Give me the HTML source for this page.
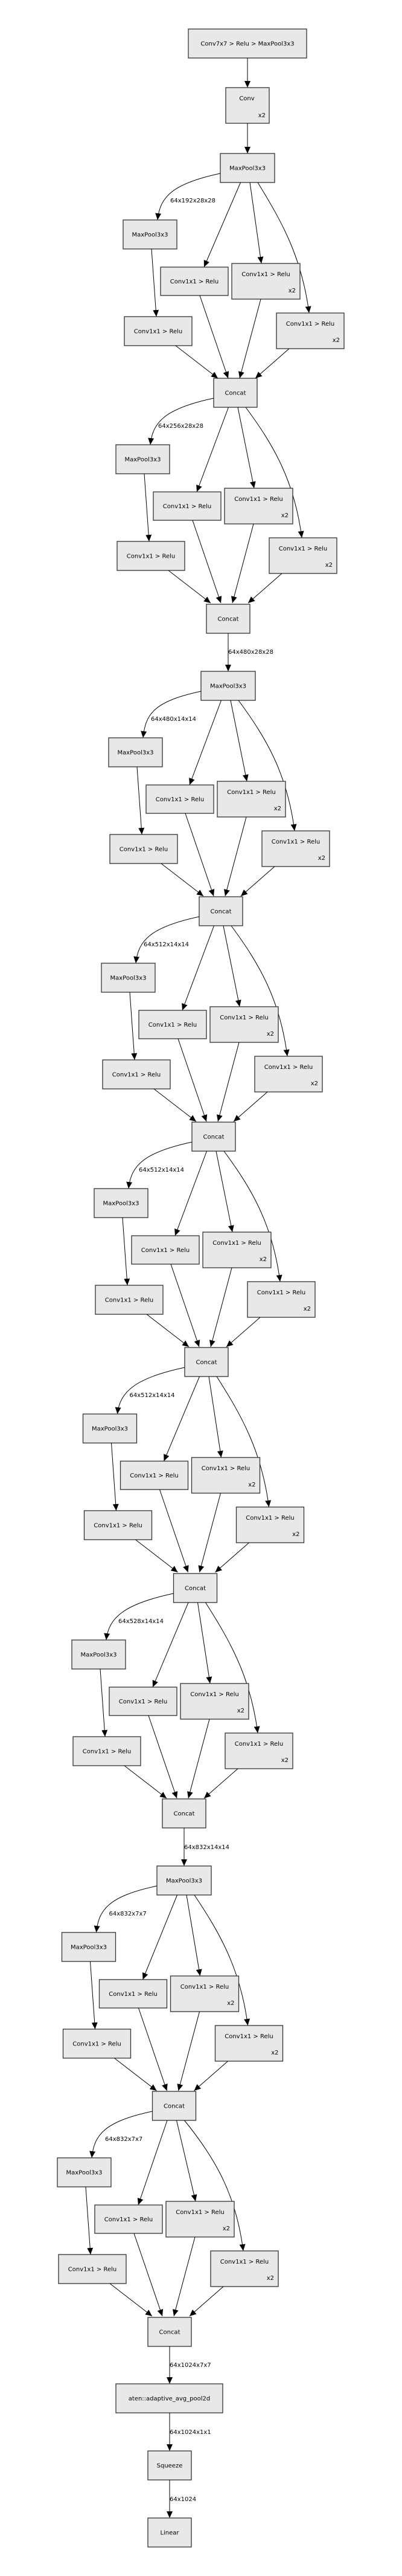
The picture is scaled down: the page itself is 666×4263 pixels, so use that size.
<!DOCTYPE html>
<html><head><meta charset="utf-8"><style>
html,body{margin:0;padding:0;background:#fff}
svg{display:block}
rect{fill:#e8e8e8;stroke:#333;stroke-width:1.3}
text{font-family:"DejaVu Sans","Liberation Sans",sans-serif;font-size:10px;fill:#000}
.m{text-anchor:middle}
.e{text-anchor:end}
path{fill:none;stroke:#000;stroke-width:1}
path.a{marker-end:url(#ar)}
</style></head><body>
<svg width="666" height="4263" viewBox="0 0 666 4263" xmlns="http://www.w3.org/2000/svg">
<defs><marker id="ar" markerUnits="userSpaceOnUse" markerWidth="12" markerHeight="10" refX="11" refY="5" orient="auto"><path d="M0,0 L11,5 L0,10 Z" style="fill:#000;stroke:none"/></marker></defs>

<!-- top -->
<rect x="312" y="48" width="196" height="48"/><text class="m" x="410" y="75.5">Conv7x7 &gt; Relu &gt; MaxPool3x3</text>
<path class="a" d="M410,96 L410,145"/>
<rect x="374" y="145" width="72" height="59"/><text class="m" x="409" y="166">Conv</text><text class="e" x="440" y="194">x2</text>
<path class="a" d="M410,204 L410,254"/>
<rect x="365" y="254" width="90" height="48"/><text class="m" x="410" y="281.5">MaxPool3x3</text>

<!-- sources / concats -->
<rect x="354" y="626" width="72" height="48"/><text class="m" x="390" y="653.5">Concat</text>
<rect x="342" y="1000" width="72" height="48"/><text class="m" x="378" y="1027.5">Concat</text>
<path class="a" d="M378,1048 L378,1111"/><text x="378" y="1082">64x480x28x28</text>
<rect x="333" y="1111" width="90" height="48"/><text class="m" x="378" y="1138.5">MaxPool3x3</text>
<rect x="330" y="1484" width="72" height="48"/><text class="m" x="366" y="1511.5">Concat</text>
<rect x="318" y="1857" width="72" height="48"/><text class="m" x="354" y="1884.5">Concat</text>
<rect x="306" y="2230" width="72" height="48"/><text class="m" x="342" y="2257.5">Concat</text>
<rect x="287.5" y="2604" width="72" height="48"/><text class="m" x="323.5" y="2631.5">Concat</text>
<rect x="269" y="2977" width="72" height="48"/><text class="m" x="305" y="3004.5">Concat</text>
<path class="a" d="M305,3025 L305,3088"/><text x="305" y="3060">64x832x14x14</text>
<rect x="260" y="3088" width="90" height="48"/><text class="m" x="305" y="3115.5">MaxPool3x3</text>
<rect x="252.5" y="3461" width="72" height="48"/><text class="m" x="288.5" y="3488.5">Concat</text>
<rect x="245" y="3835" width="72" height="48"/><text class="m" x="281" y="3862.5">Concat</text>
<path class="a" d="M281,3883 L281,3945"/><text x="281" y="3917">64x1024x7x7</text>
<rect x="192" y="3945" width="177" height="48"/><text class="m" x="280.5" y="3972.5">aten::adaptive_avg_pool2d</text>
<path class="a" d="M281,3993 L281,4056"/><text x="281" y="4028">64x1024x1x1</text>
<rect x="245" y="4056" width="72" height="48"/><text class="m" x="281" y="4083.5">Squeeze</text>
<path class="a" d="M281,4104 L281,4167"/><text x="281" y="4139">64x1024</text>
<rect x="245" y="4167" width="72" height="48"/><text class="m" x="281" y="4194.5">Linear</text>

<!-- block 0 -->
<g transform="translate(390,254)">
<path class="a" d="M-25,33 C-105,50 -125,72 -129,110"/><text x="-108" y="81">64x192x28x28</text>
<path class="a" d="M8.5,48 L-52,188"/><path class="a" d="M24,48 L43,182"/><path class="a" d="M37,48 C75,110 110,170 122,264"/>
<rect x="-186" y="110" width="89" height="48"/><text class="m" x="-141.5" y="137.5">MaxPool3x3</text>
<rect x="-124" y="188" width="112" height="47"/><text class="m" x="-68" y="215">Conv1x1 &gt; Relu</text>
<rect x="-6" y="182" width="113" height="59"/><text class="m" x="50.5" y="203">Conv1x1 &gt; Relu</text><text class="e" x="100" y="230">x2</text>
<rect x="68" y="264" width="112" height="59"/><text class="m" x="124" y="285">Conv1x1 &gt; Relu</text><text class="e" x="173" y="312">x2</text>
<rect x="-184" y="270" width="112" height="48"/><text class="m" x="-128" y="297.5">Conv1x1 &gt; Relu</text>
<path class="a" d="M-139,158 L-131,270"/><path class="a" d="M-99,318 L-29,372"/><path class="a" d="M-59,235 L-12,372"/><path class="a" d="M42,241 L7,372"/><path class="a" d="M89,323 L33,372"/>
</g>
<!-- block 1 -->
<g transform="translate(378,626)">
<path class="a" d="M-24,33 C-104,50 -125,72 -129,110"/><text x="-116" y="82">64x256x28x28</text>
<path class="a" d="M0.5,48 L-52,188"/><path class="a" d="M16,48 L43,182"/><path class="a" d="M29,48 C75,110 110,170 122,264"/>
<rect x="-186" y="110" width="89" height="48"/><text class="m" x="-141.5" y="137.5">MaxPool3x3</text>
<rect x="-124" y="188" width="112" height="47"/><text class="m" x="-68" y="215">Conv1x1 &gt; Relu</text>
<rect x="-6" y="182" width="113" height="59"/><text class="m" x="50.5" y="203">Conv1x1 &gt; Relu</text><text class="e" x="100" y="230">x2</text>
<rect x="68" y="264" width="112" height="59"/><text class="m" x="124" y="285">Conv1x1 &gt; Relu</text><text class="e" x="173" y="312">x2</text>
<rect x="-184" y="270" width="112" height="48"/><text class="m" x="-128" y="297.5">Conv1x1 &gt; Relu</text>
<path class="a" d="M-139,158 L-131,270"/><path class="a" d="M-99,318 L-29,372"/><path class="a" d="M-59,235 L-12,372"/><path class="a" d="M42,241 L7,372"/><path class="a" d="M89,323 L33,372"/>
</g>
<!-- block 2 -->
<g transform="translate(366,1111)">
<path class="a" d="M-33,33 C-113,50 -125,72 -129,110"/><text x="-116" y="82">64x480x14x14</text>
<path class="a" d="M0.5,48 L-52,188"/><path class="a" d="M16,48 L43,182"/><path class="a" d="M29,48 C75,110 110,170 122,264"/>
<rect x="-186" y="110" width="89" height="48"/><text class="m" x="-141.5" y="137.5">MaxPool3x3</text>
<rect x="-124" y="188" width="112" height="47"/><text class="m" x="-68" y="215">Conv1x1 &gt; Relu</text>
<rect x="-6" y="182" width="113" height="59"/><text class="m" x="50.5" y="203">Conv1x1 &gt; Relu</text><text class="e" x="100" y="230">x2</text>
<rect x="68" y="264" width="112" height="59"/><text class="m" x="124" y="285">Conv1x1 &gt; Relu</text><text class="e" x="173" y="312">x2</text>
<rect x="-184" y="270" width="112" height="48"/><text class="m" x="-128" y="297.5">Conv1x1 &gt; Relu</text>
<path class="a" d="M-139,158 L-131,270"/><path class="a" d="M-99,318 L-29,372"/><path class="a" d="M-59,235 L-12,372"/><path class="a" d="M42,241 L7,372"/><path class="a" d="M89,323 L33,372"/>
</g>
<!-- block 3 -->
<g transform="translate(354,1484)">
<path class="a" d="M-24,33 C-104,50 -125,72 -129,110"/><text x="-116" y="82">64x512x14x14</text>
<path class="a" d="M0.5,48 L-52,188"/><path class="a" d="M16,48 L43,182"/><path class="a" d="M29,48 C75,110 110,170 122,264"/>
<rect x="-186" y="110" width="89" height="48"/><text class="m" x="-141.5" y="137.5">MaxPool3x3</text>
<rect x="-124" y="188" width="112" height="47"/><text class="m" x="-68" y="215">Conv1x1 &gt; Relu</text>
<rect x="-6" y="182" width="113" height="59"/><text class="m" x="50.5" y="203">Conv1x1 &gt; Relu</text><text class="e" x="100" y="230">x2</text>
<rect x="68" y="264" width="112" height="59"/><text class="m" x="124" y="285">Conv1x1 &gt; Relu</text><text class="e" x="173" y="312">x2</text>
<rect x="-184" y="270" width="112" height="48"/><text class="m" x="-128" y="297.5">Conv1x1 &gt; Relu</text>
<path class="a" d="M-139,158 L-131,270"/><path class="a" d="M-99,318 L-29,372"/><path class="a" d="M-59,235 L-12,372"/><path class="a" d="M42,241 L7,372"/><path class="a" d="M89,323 L33,372"/>
</g>
<!-- block 4 -->
<g transform="translate(342,1857)">
<path class="a" d="M-24,33 C-104,50 -125,72 -129,110"/><text x="-112" y="82">64x512x14x14</text>
<path class="a" d="M0.5,48 L-52,188"/><path class="a" d="M16,48 L43,182"/><path class="a" d="M29,48 C75,110 110,170 122,264"/>
<rect x="-186" y="110" width="89" height="48"/><text class="m" x="-141.5" y="137.5">MaxPool3x3</text>
<rect x="-124" y="188" width="112" height="47"/><text class="m" x="-68" y="215">Conv1x1 &gt; Relu</text>
<rect x="-6" y="182" width="113" height="59"/><text class="m" x="50.5" y="203">Conv1x1 &gt; Relu</text><text class="e" x="100" y="230">x2</text>
<rect x="68" y="264" width="112" height="59"/><text class="m" x="124" y="285">Conv1x1 &gt; Relu</text><text class="e" x="173" y="312">x2</text>
<rect x="-184" y="270" width="112" height="48"/><text class="m" x="-128" y="297.5">Conv1x1 &gt; Relu</text>
<path class="a" d="M-139,158 L-131,270"/><path class="a" d="M-99,318 L-29,372"/><path class="a" d="M-59,235 L-12,372"/><path class="a" d="M42,241 L7,372"/><path class="a" d="M89,323 L33,372"/>
</g>
<!-- block 5 -->
<g transform="translate(323.5,2230)">
<path class="a" d="M-17.5,33 C-97.5,50 -125,72 -129,110"/><text x="-109" y="82">64x512x14x14</text>
<path class="a" d="M7,48 L-52,188"/><path class="a" d="M22.5,48 L43,182"/><path class="a" d="M35.5,48 C75,110 110,170 122,264"/>
<rect x="-186" y="110" width="89" height="48"/><text class="m" x="-141.5" y="137.5">MaxPool3x3</text>
<rect x="-124" y="188" width="112" height="47"/><text class="m" x="-68" y="215">Conv1x1 &gt; Relu</text>
<rect x="-6" y="182" width="113" height="59"/><text class="m" x="50.5" y="203">Conv1x1 &gt; Relu</text><text class="e" x="100" y="230">x2</text>
<rect x="68" y="264" width="112" height="59"/><text class="m" x="124" y="285">Conv1x1 &gt; Relu</text><text class="e" x="173" y="312">x2</text>
<rect x="-184" y="270" width="112" height="48"/><text class="m" x="-128" y="297.5">Conv1x1 &gt; Relu</text>
<path class="a" d="M-139,158 L-131,270"/><path class="a" d="M-99,318 L-29,372"/><path class="a" d="M-59,235 L-12,372"/><path class="a" d="M42,241 L7,372"/><path class="a" d="M89,323 L33,372"/>
</g>
<!-- block 6 -->
<g transform="translate(305,2604)">
<path class="a" d="M-17.5,33 C-97.5,50 -125,72 -129,110"/><text x="-109" y="82">64x528x14x14</text>
<path class="a" d="M7,48 L-52,188"/><path class="a" d="M22.5,48 L43,182"/><path class="a" d="M35.5,48 C75,110 110,170 122,264"/>
<rect x="-186" y="110" width="89" height="48"/><text class="m" x="-141.5" y="137.5">MaxPool3x3</text>
<rect x="-124" y="188" width="112" height="47"/><text class="m" x="-68" y="215">Conv1x1 &gt; Relu</text>
<rect x="-6" y="182" width="113" height="59"/><text class="m" x="50.5" y="203">Conv1x1 &gt; Relu</text><text class="e" x="100" y="230">x2</text>
<rect x="68" y="264" width="112" height="59"/><text class="m" x="124" y="285">Conv1x1 &gt; Relu</text><text class="e" x="173" y="312">x2</text>
<rect x="-184" y="270" width="112" height="48"/><text class="m" x="-128" y="297.5">Conv1x1 &gt; Relu</text>
<path class="a" d="M-139,158 L-131,270"/><path class="a" d="M-99,318 L-29,372"/><path class="a" d="M-59,235 L-12,372"/><path class="a" d="M42,241 L7,372"/><path class="a" d="M89,323 L33,372"/>
</g>
<!-- block 7 -->
<g transform="translate(288.5,3088)">
<path class="a" d="M-28.5,33 C-108.5,50 -125,72 -129,110"/><text x="-108" y="82">64x832x7x7</text>
<path class="a" d="M5,48 L-52,188"/><path class="a" d="M20.5,48 L43,182"/><path class="a" d="M33.5,48 C75,110 110,170 122,264"/>
<rect x="-186" y="110" width="89" height="48"/><text class="m" x="-141.5" y="137.5">MaxPool3x3</text>
<rect x="-124" y="188" width="112" height="47"/><text class="m" x="-68" y="215">Conv1x1 &gt; Relu</text>
<rect x="-6" y="182" width="113" height="59"/><text class="m" x="50.5" y="203">Conv1x1 &gt; Relu</text><text class="e" x="100" y="230">x2</text>
<rect x="68" y="264" width="112" height="59"/><text class="m" x="124" y="285">Conv1x1 &gt; Relu</text><text class="e" x="173" y="312">x2</text>
<rect x="-184" y="270" width="112" height="48"/><text class="m" x="-128" y="297.5">Conv1x1 &gt; Relu</text>
<path class="a" d="M-139,158 L-131,270"/><path class="a" d="M-99,318 L-29,372"/><path class="a" d="M-59,235 L-12,372"/><path class="a" d="M42,241 L7,372"/><path class="a" d="M89,323 L33,372"/>
</g>
<!-- block 8 -->
<g transform="translate(281,3461)">
<path class="a" d="M-28.5,33 C-108.5,50 -125,72 -129,110"/><text x="-107" y="82">64x832x7x7</text>
<path class="a" d="M-4,48 L-52,188"/><path class="a" d="M11.5,48 L43,182"/><path class="a" d="M24.5,48 C75,110 110,170 122,264"/>
<rect x="-186" y="110" width="89" height="48"/><text class="m" x="-141.5" y="137.5">MaxPool3x3</text>
<rect x="-124" y="188" width="112" height="47"/><text class="m" x="-68" y="215">Conv1x1 &gt; Relu</text>
<rect x="-6" y="182" width="113" height="59"/><text class="m" x="50.5" y="203">Conv1x1 &gt; Relu</text><text class="e" x="100" y="230">x2</text>
<rect x="68" y="264" width="112" height="59"/><text class="m" x="124" y="285">Conv1x1 &gt; Relu</text><text class="e" x="173" y="312">x2</text>
<rect x="-184" y="270" width="112" height="48"/><text class="m" x="-128" y="297.5">Conv1x1 &gt; Relu</text>
<path class="a" d="M-139,158 L-131,270"/><path class="a" d="M-99,318 L-29,372"/><path class="a" d="M-59,235 L-12,372"/><path class="a" d="M42,241 L7,372"/><path class="a" d="M89,323 L33,372"/>
</g>
</svg>
</body></html>
